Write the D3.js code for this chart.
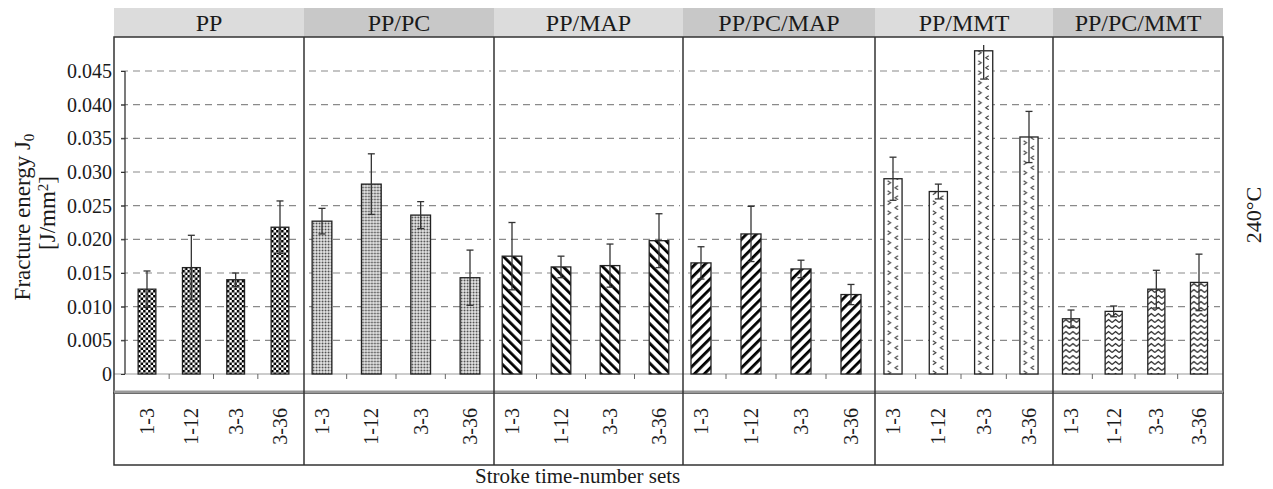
<!DOCTYPE html>
<html>
<head>
<meta charset="utf-8">
<script src="https://cdn.jsdelivr.net/npm/d3@7"></script>
<style>
  body { margin: 0; background: #fff; }
  text { font-family: "Liberation Serif", "Times New Roman", serif; fill: #1a1a1a; }
</style>
</head>
<body>
<script>
// chart data
var groups = ["PP", "PP/PC", "PP/MAP", "PP/PC/MAP", "PP/MMT", "PP/PC/MMT"];
var sets = ["1-3", "1-12", "3-3", "3-36"];
var valPP      = [0.0126, 0.0158, 0.0140, 0.0218];
var errPP      = [0.0027, 0.0048, 0.0010, 0.0039];
var valPPPC    = [0.0227, 0.0282, 0.0236, 0.0143];
var errPPPC    = [0.0019, 0.0045, 0.0020, 0.0041];
var valPPMAP   = [0.0175, 0.0159, 0.0161, 0.0198];
var errPPMAP   = [0.0050, 0.0016, 0.0032, 0.0040];
var valPPPCMAP = [0.0165, 0.0208, 0.0156, 0.0118];
var errPPPCMAP = [0.0024, 0.0041, 0.0013, 0.0015];
var valPPMMT   = [0.0290, 0.0271, 0.0480, 0.0352];
var errPPMMT   = [0.0032, 0.0011, 0.0042, 0.0038];
var valPPPCMMT = [0.0082, 0.0093, 0.0126, 0.0136];
var errPPPCMMT = [0.0013, 0.0008, 0.0028, 0.0042];
var yTicks = [0, 0.005, 0.010, 0.015, 0.020, 0.025, 0.030, 0.035, 0.040, 0.045];

var panels = [
    {name: groups[0], vals: valPP,      errs: errPP,      pat: "checker"},
    {name: groups[1], vals: valPPPC,    errs: errPPPC,    pat: "dots"},
    {name: groups[2], vals: valPPMAP,   errs: errPPMAP,   pat: "back"},
    {name: groups[3], vals: valPPPCMAP, errs: errPPPCMAP, pat: "fwd"},
    {name: groups[4], vals: valPPMMT,   errs: errPPMMT,   pat: "chev"},
    {name: groups[5], vals: valPPPCMMT, errs: errPPPCMMT, pat: "zig"}
];

function init() {
    var w = 1273;
    var h = 489;
    // layout
    var edges = [114, 304, 494, 683, 875, 1053, 1223];
    var headerTop = 8, plotTop = 37, plotBottom = 393, labelBottom = 465;
    var axisX = 125, clipTop = 45;

    var yScale = d3.scaleLinear()
                    .domain([0, 0.045])
                    .range([374, 71]);

    var svg = d3.select("body")
                .append("svg")
                .attr("width", w)
                .attr("height", h);
    var defs = svg.append("defs");

    // fill patterns, one per bar so they line up with the bar's left edge
    function makePattern(id, type, x0, bw) {
        var p = defs.append("pattern")
                    .attr("id", id)
                    .attr("patternUnits", "userSpaceOnUse")
                    .attr("x", x0).attr("y", 0);
        if (type === "checker") {
            p.attr("width", 5).attr("height", 5);
            p.append("rect").attr("width", 5).attr("height", 5).attr("fill", "#fff");
            p.append("rect").attr("width", 2.5).attr("height", 2.5).attr("fill", "#000");
            p.append("rect").attr("x", 2.5).attr("y", 2.5).attr("width", 2.5).attr("height", 2.5).attr("fill", "#000");
        } else if (type === "dots") {
            p.attr("width", 3).attr("height", 3);
            p.append("rect").attr("width", 3).attr("height", 3).attr("fill", "#e6e6e6");
            p.append("circle").attr("cx", 1.5).attr("cy", 1.5).attr("r", 0.9).attr("fill", "#444");
        } else if (type === "back" || type === "fwd") {
            p.attr("width", 7).attr("height", 7)
             .attr("patternTransform", "rotate(" + (type === "back" ? -45 : 45) + ")");
            p.append("rect").attr("width", 7).attr("height", 7).attr("fill", "#fff");
            p.append("rect").attr("x", 0).attr("width", 2.8).attr("height", 7).attr("fill", "#000");
        } else if (type === "chev") {
            p.attr("width", bw).attr("height", 10);
            p.append("rect").attr("width", bw).attr("height", 10).attr("fill", "#fff");
            var a = bw * 0.2, b = bw * 0.78;
            p.append("polyline")
             .attr("points", [[a, 0.8], [a + 3, 2.8], [a, 4.8]].join(" "))
             .attr("fill", "none").attr("stroke", "#444").attr("stroke-width", 1.1);
            p.append("polyline")
             .attr("points", [[b, 5.8], [b - 3, 7.8], [b, 9.8]].join(" "))
             .attr("fill", "none").attr("stroke", "#444").attr("stroke-width", 1.1);
        } else if (type === "zig") {
            p.attr("width", 7).attr("height", 6);
            p.append("rect").attr("width", 7).attr("height", 6).attr("fill", "#fff");
            p.append("polyline")
             .attr("points", "0,4.5 3.5,1.5 7,4.5")
             .attr("fill", "none").attr("stroke", "#222").attr("stroke-width", 1.2);
        }
    }

    panels.forEach(function(pn, i) {
        var L = edges[i], R = edges[i + 1];
        var xScale = d3.scalePoint()
                        .domain(sets)
                        .range([L + (i === 0 ? 33 : 18), R - 24]);
        var bw = xScale.step() * 0.4;
        var g = svg.append("g");

        // header strip
        g.append("rect")
         .attr("x", L).attr("y", headerTop)
         .attr("width", R - L).attr("height", plotTop - headerTop)
         .attr("fill", i % 2 ? "#c8c8c8" : "#dcdcdc");
        g.append("text")
         .attr("x", (L + R) / 2).attr("y", 31)
         .attr("text-anchor", "middle")
         .style("font-size", "24px")
         .text(pn.name);

        // dashed grid
        g.selectAll("line.grid")
         .data(yTicks.slice(1))
         .enter()
         .append("line")
         .attr("x1", i === 0 ? axisX - 4 : L + 5)
         .attr("x2", R - 3)
         .attr("y1", d => yScale(d)).attr("y2", d => yScale(d))
         .attr("stroke", "#8a8a8a")
         .attr("stroke-width", 1.1)
         .attr("stroke-dasharray", "7,5");

        // zero line
        g.append("line")
         .attr("x1", L).attr("x2", R)
         .attr("y1", yScale(0)).attr("y2", yScale(0))
         .attr("stroke", "#999").attr("stroke-width", 1.2);

        // small ticks between categories
        var mids = sets.slice(1).map((s, j) => (xScale(sets[j]) + xScale(s)) / 2);
        g.selectAll("line.xt")
         .data(mids)
         .enter()
         .append("line")
         .attr("x1", d => d).attr("x2", d => d)
         .attr("y1", yScale(0)).attr("y2", yScale(0) + 5)
         .attr("stroke", "#666").attr("stroke-width", 1);

        // bars
        pn.vals.forEach(function(v, j) {
            makePattern("pat" + i + "_" + j, pn.pat, xScale(sets[j]) - bw / 2, bw);
        });
        g.selectAll("rect.bar")
         .data(pn.vals)
         .enter()
         .append("rect")
         .attr("x", (d, j) => xScale(sets[j]) - bw / 2)
         .attr("y", d => yScale(d))
         .attr("width", bw)
         .attr("height", d => yScale(0) - yScale(d))
         .attr("fill", (d, j) => "url(#pat" + i + "_" + j + ")")
         .attr("stroke", "#222")
         .attr("stroke-width", 1.3);

        // error bars
        pn.vals.forEach(function(v, j) {
            var cx = xScale(sets[j]);
            var yHi = yScale(v + pn.errs[j]), yLo = yScale(v - pn.errs[j]);
            var clipped = yHi < clipTop;
            yHi = Math.max(yHi, clipTop);
            g.append("line")
             .attr("x1", cx).attr("x2", cx).attr("y1", yHi).attr("y2", yLo)
             .attr("stroke", "#333").attr("stroke-width", 1.3);
            g.append("line")
             .attr("x1", cx - 3.5).attr("x2", cx + 3.5).attr("y1", yLo).attr("y2", yLo)
             .attr("stroke", "#333").attr("stroke-width", 1.3);
            if (!clipped) {
                g.append("line")
                 .attr("x1", cx - 3.5).attr("x2", cx + 3.5).attr("y1", yHi).attr("y2", yHi)
                 .attr("stroke", "#333").attr("stroke-width", 1.3);
            }
        });

        // category labels in the lower box
        g.selectAll("text.cat")
         .data(sets)
         .enter()
         .append("text")
         .attr("transform", d => "translate(" + xScale(d) + "," + 408 + ") rotate(-90)")
         .attr("dy", "0.35em")
         .attr("text-anchor", "end")
         .style("font-size", "20px")
         .text(d => d);
    });

    // frames
    svg.append("rect")
        .attr("x", edges[0]).attr("y", plotTop)
        .attr("width", edges[6] - edges[0]).attr("height", plotBottom - plotTop)
        .attr("fill", "none").attr("stroke", "#333").attr("stroke-width", 1.5);
    svg.append("rect")
        .attr("x", edges[0]).attr("y", plotBottom)
        .attr("width", edges[6] - edges[0]).attr("height", labelBottom - plotBottom)
        .attr("fill", "none").attr("stroke", "#333").attr("stroke-width", 1.5);
    svg.append("line")
        .attr("x1", edges[0]).attr("x2", edges[6])
        .attr("y1", plotBottom - 1).attr("y2", plotBottom - 1)
        .attr("stroke", "#999").attr("stroke-width", 3);
    svg.selectAll("line.div")
        .data(edges.slice(1, 6))
        .enter()
        .append("line")
        .attr("x1", d => d).attr("x2", d => d)
        .attr("y1", plotTop).attr("y2", labelBottom)
        .attr("stroke", "#333").attr("stroke-width", 1.5);

    // y axis
    var yAxis = d3.axisLeft(yScale)
                  .tickValues(yTicks)
                  .tickSize(4)
                  .tickPadding(9)
                  .tickFormat(d => d === 0 ? "0" : d3.format(".3f")(d));
    var ag = svg.append("g")
                .attr("transform", "translate(" + axisX + ",0)")
                .call(yAxis);
    ag.select(".domain").remove();
    ag.selectAll(".tick line").attr("stroke", "#333");
    ag.selectAll(".tick text")
      .style("font-size", "20px")
      .style("font-family", "'Liberation Serif', 'Times New Roman', serif")
      .attr("fill", "#1a1a1a");
    svg.append("line")
        .attr("x1", axisX).attr("x2", axisX)
        .attr("y1", yScale(0.045)).attr("y2", yScale(0))
        .attr("stroke", "#333").attr("stroke-width", 1.3);

    // y axis title
    var t1 = svg.append("text")
        .attr("transform", "translate(22,217) rotate(-90)")
        .attr("dy", "0.35em")
        .attr("text-anchor", "middle")
        .style("font-size", "23px");
    t1.append("tspan").text("Fracture energy J");
    t1.append("tspan").attr("dy", "0.25em").style("font-size", "15px").text("0");
    var t2 = svg.append("text")
        .attr("transform", "translate(47,213) rotate(-90)")
        .attr("dy", "0.35em")
        .attr("text-anchor", "middle")
        .style("font-size", "23px");
    t2.append("tspan").text("[J/mm");
    t2.append("tspan").attr("dy", "-0.45em").style("font-size", "15px").text("2");
    t2.append("tspan").attr("dy", "0.3em").text("]");

    // right side label
    svg.append("text")
        .attr("transform", "translate(1253,215) rotate(-90)")
        .attr("dy", "0.35em")
        .attr("text-anchor", "middle")
        .style("font-size", "22px")
        .text("240°C");

    // x caption
    svg.append("text")
        .attr("x", 475).attr("y", 483)
        .style("font-size", "21px")
        .text("Stroke time-number sets");
}
window.onload = init;
</script>
</body>
</html>
